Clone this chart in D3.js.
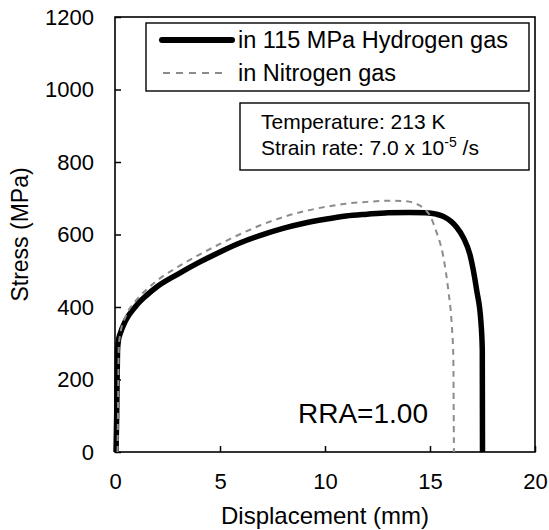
<!DOCTYPE html>
<html>
<head>
<meta charset="utf-8">
<script src="https://cdn.jsdelivr.net/npm/d3@7"></script>
<style>
  body { margin: 0; background: #fff; }
  text { font-family: "Liberation Sans", Arial, sans-serif; fill: #000; }
</style>
</head>
<body>
<div id="chart-area"></div>
<script>
// displacement (mm), stress (MPa)
let hydrogen = [[0.05,0],[0.08,100],[0.12,280],[0.17,310],[0.25,327],[0.5,362],[1.0,403],[1.5,432],
                [2.0,456],[3.0,491],[4.0,523],[5.0,552],[6.0,578],[7.0,599],[8.0,617],[9.0,631],
                [10.0,642],[11.0,651],[12.0,656],[13.0,660],[14.0,661],[14.8,660],[15.3,656],[15.7,648],
                [16.0,636],[16.27,620],[16.6,590],[16.9,545],[17.22,447],[17.43,355],[17.49,281],[17.5,0]];
let nitrogen = [[0.12,0],[0.15,150],[0.18,290],[0.28,335],[0.5,373],[1.0,418],[1.5,448],[2.0,473],
                [3.0,511],[4.0,544],[5.0,574],[6.0,602],[7.0,627],[8.0,648],[9.0,664],[10.0,676],
                [11.0,685],[12.0,690],[13.0,693],[13.8,692],[14.3,686],[14.7,672],[15.0,652],[15.3,608],
                [15.63,540],[15.87,447],[16.03,355],[16.11,263],[16.14,5],[16.141,0]];
let xTicks = [0, 5, 10, 15, 20];
let yTicks = [0, 200, 400, 600, 800, 1000, 1200];
let legendNames = ["in 115 MPa Hydrogen gas", "in Nitrogen gas"];
let infoLines = ["Temperature: 213 K", "Strain rate: 7.0 x 10"];

const W = 549, H = 530;
const m = {left: 115, right: 535, top: 17, bottom: 452};

const svg = d3.select('#chart-area').append('svg').attr('width', W).attr('height', H);

let x = d3.scaleLinear().domain([0, 20]).range([m.left, m.right]);
let y = d3.scaleLinear().domain([0, 1200]).range([m.bottom, m.top]);

let line = d3.line().x(d=>x(d[0])).y(d=>y(d[1])).curve(d3.curveMonotoneX);

// axes, ticks inward
svg.append('g').attr('transform', `translate(0,${m.bottom})`)
  .call(d3.axisBottom(x).tickValues(xTicks).tickFormat(d3.format('d')).tickSizeInner(-6).tickSizeOuter(0).tickPadding(21))
  .call(g=>{
    g.select('.domain').remove();
    g.selectAll('line').attr('stroke', '#000').attr('stroke-width', 1.5);
    g.selectAll('text').attr('font-size', 22).attr('font-family', '"Liberation Sans", Arial, sans-serif');
  });
svg.append('g').attr('transform', `translate(${m.left},0)`)
  .call(d3.axisLeft(y).tickValues(yTicks).tickFormat(d3.format('d')).tickSizeInner(-6).tickSizeOuter(0).tickPadding(21))
  .call(g=>{
    g.select('.domain').remove();
    g.selectAll('line').attr('stroke', '#000').attr('stroke-width', 1.5);
    g.selectAll('text').attr('font-size', 22).attr('font-family', '"Liberation Sans", Arial, sans-serif');
  });

svg.append('rect').attr('x', m.left).attr('y', m.top).attr('width', m.right-m.left).attr('height', m.bottom-m.top)
  .attr('fill', 'none').attr('stroke', '#000').attr('stroke-width', 1.6);

// curves
svg.append('path').datum(hydrogen).attr('d', line)
  .attr('fill', 'none').attr('stroke', '#000').attr('stroke-width', 5.5).attr('stroke-linejoin', 'round');
svg.append('path').datum(nitrogen).attr('d', line)
  .attr('fill', 'none').attr('stroke', '#8c8c8c').attr('stroke-width', 2).attr('stroke-dasharray', '6,5');

// axis titles
svg.append('text').attr('x', (m.left+m.right)/2).attr('y', 524).attr('text-anchor', 'middle')
  .attr('font-size', 24).text('Displacement (mm)');
svg.append('text').attr('transform', `translate(28,${(m.top+m.bottom)/2}) rotate(-90)`).attr('text-anchor', 'middle')
  .attr('font-size', 23).text('Stress (MPa)');

// legend
svg.append('rect').attr('x', 146).attr('y', 23).attr('width', 383).attr('height', 68)
  .attr('fill', '#fff').attr('stroke', '#000').attr('stroke-width', 1.4);
svg.append('line').attr('x1', 162).attr('x2', 232).attr('y1', 40).attr('y2', 40)
  .attr('stroke', '#000').attr('stroke-width', 6).attr('stroke-linecap', 'round');
svg.append('line').attr('x1', 163).attr('x2', 226).attr('y1', 73).attr('y2', 73)
  .attr('stroke', '#8c8c8c').attr('stroke-width', 2).attr('stroke-dasharray', '7,6');
legendNames.forEach((n, i)=>{
  svg.append('text').attr('x', 238).attr('y', 48 + i*33).attr('font-size', 23.5).text(n);
});

// condition box
svg.append('rect').attr('x', 240).attr('y', 103).attr('width', 289).attr('height', 67)
  .attr('fill', '#fff').attr('stroke', '#000').attr('stroke-width', 1.4);
svg.append('text').attr('x', 261).attr('y', 129).attr('font-size', 21).text(infoLines[0]);
let sr = svg.append('text').attr('x', 261).attr('y', 155).attr('font-size', 21).text(infoLines[1]);
sr.append('tspan').attr('dy', -8).attr('font-size', 14).text('-5');
sr.append('tspan').attr('dy', 8).attr('font-size', 21).text(' /s');

svg.append('text').attr('x', 298).attr('y', 423).attr('font-size', 28).text('RRA=1.00');
</script>
</body>
</html>
